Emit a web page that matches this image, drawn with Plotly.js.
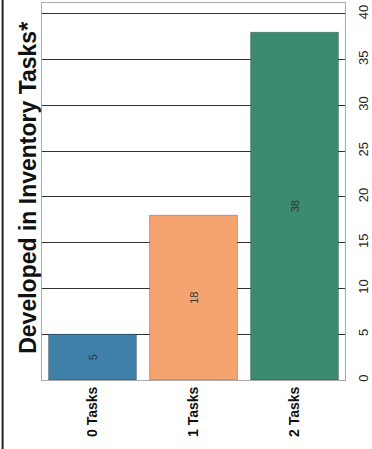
<!DOCTYPE html>
<html>
<head>
<meta charset="utf-8">
<script src="https://cdn.plot.ly/plotly-3.0.1.min.js"></script>
<style>html,body{margin:0;padding:0;background:#fff;}#chart{width:372px;height:449px;}</style>
</head>
<body>
<div id="chart"></div>
<script>
var categories = ["0 Tasks", "1 Tasks", "2 Tasks"];
var values = [5, 18, 38];
var barColors = ["#3f80a8", "#f5a46f", "#3b8b70"];
var valueTicks = [0, 5, 10, 15, 20, 25, 30, 35, 40];
var chartTitle = "Developed in Inventory Tasks*";

var trace = {
  type: "bar",
  x: categories,
  y: values,
  text: values.map(String),
  textposition: "inside",
  insidetextanchor: "middle",
  textangle: -90,
  textfont: {family: "Arial, Liberation Sans, sans-serif", size: 11, color: "#333"},
  marker: {color: barColors, line: {color: "rgba(0,0,0,0.25)", width: 1}},
  hoverinfo: "none"
};

var layout = {
  width: 372, height: 449,
  margin: {l: 42, r: 27, t: 3, b: 69},
  paper_bgcolor: "#fff", plot_bgcolor: "#fff",
  showlegend: false,
  bargap: 0.13,
  font: {family: "Arial, Liberation Sans, sans-serif", color: "#222"},
  xaxis: {
    type: "category",
    tickangle: -90,
    tickfont: {size: 14, color: "#111", family: "Arial, Liberation Sans, sans-serif", weight: "bold"},
    showline: true, linecolor: "#aaa", mirror: true,
    ticks: "", showgrid: false
  },
  yaxis: {
    side: "right",
    range: [0, 41.2],
    tickvals: valueTicks,
    ticktext: valueTicks.map(String),
    tickangle: -90,
    ticklabelstandoff: 6,
    ticklabeloverflow: "allow",
    tickfont: {size: 13, color: "#222"},
    showgrid: true, gridcolor: "#333", gridwidth: 1,
    showline: true, linecolor: "#aaa", mirror: true,
    zeroline: false, ticks: ""
  },
  annotations: [{
    text: "<b>" + chartTitle + "</b>",
    xref: "paper", yref: "paper",
    x: -0.046, y: 0.51,
    xanchor: "center", yanchor: "middle",
    textangle: -90, showarrow: false,
    font: {size: 23, color: "#111", family: "Arial, Liberation Sans, sans-serif"}
  }],
  shapes: [{
    type: "line", xref: "paper", yref: "paper",
    x0: -0.13, x1: -0.13, y0: -0.2, y1: 1.02,
    line: {color: "#222", width: 2}
  }]
};

Plotly.newPlot("chart", [trace], layout, {displayModeBar: false, staticPlot: true});
</script>
</body>
</html>
